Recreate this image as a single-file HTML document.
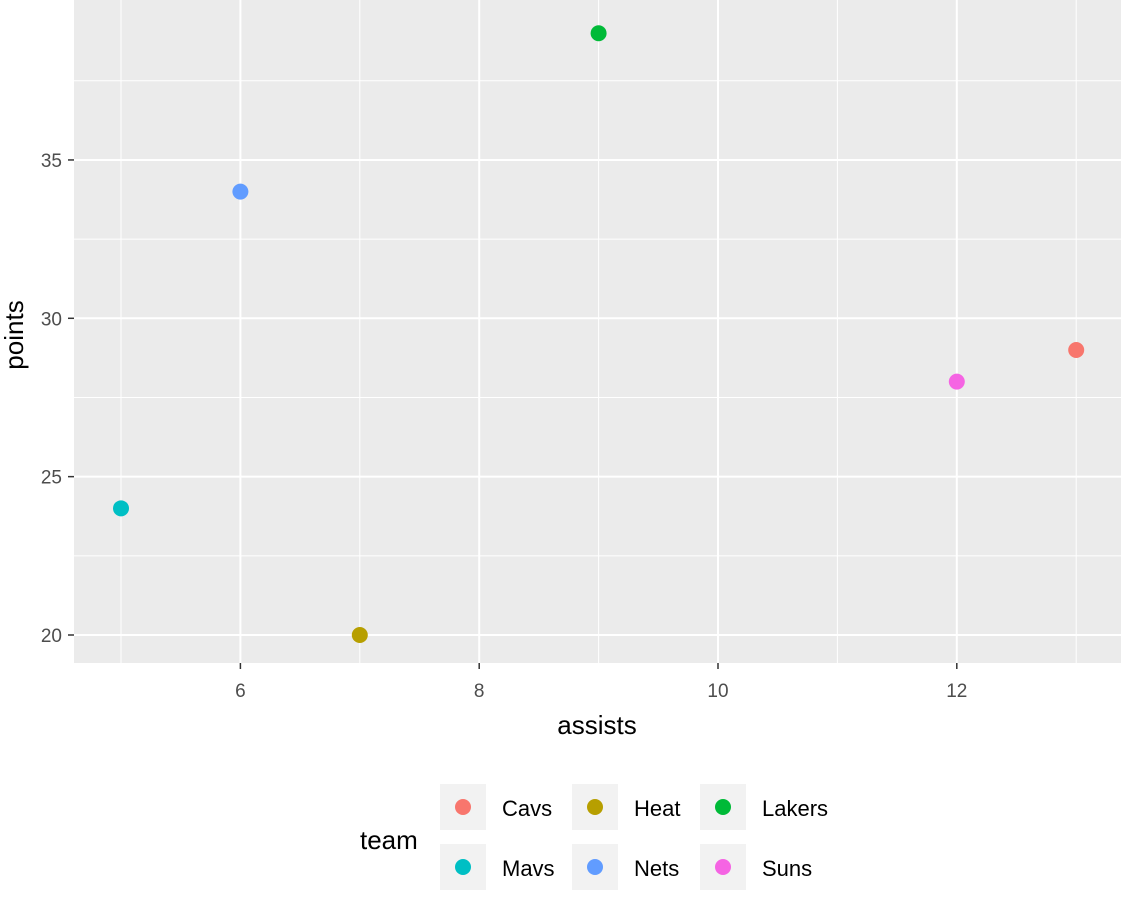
<!DOCTYPE html>
<html><head><meta charset="utf-8"><style>body{margin:0;background:#fff}svg{display:block;font-family:"Liberation Sans",Arial,sans-serif}</style></head>
<body>
<svg id="chart" width="1121" height="899" viewBox="0 0 1121 899">
<rect x="74" y="0" width="1047" height="663" fill="#EBEBEB"/>
<g id="grid"></g><g id="ticks"></g><g id="points"></g>
<text x="597" y="734" font-size="26" text-anchor="middle" fill="#000">assists</text>
<text transform="translate(23,335) rotate(-90)" font-size="26" text-anchor="middle" fill="#000">points</text>
<text x="360" y="849" font-size="26" fill="#000">team</text>
<g id="legend"></g>
</svg>
<script>
const teams=["Cavs","Heat","Lakers","Mavs","Nets","Suns"];
const assists=[13,7,9,5,6,12];
const points=[29,20,39,24,34,28];
const colors=["#F8766D","#B79F00","#00BA38","#00BFC4","#619CFF","#F564E3"];
const xTicks=[6,8,10,12];
const yTicks=[20,25,30,35];
const NS="http://www.w3.org/2000/svg";
const sx=v=>121+(v-5)*119.4;
const sy=v=>635-(v-20)*31.67;
function mk(p,t,a){const e=document.createElementNS(NS,t);for(const k in a)e.setAttribute(k,a[k]);p.appendChild(e);return e;}
const g=document.getElementById('grid'),tk=document.getElementById('ticks');
for(let i=0;i<xTicks.length;i++){const v=xTicks[i];
 const m=mk(g,'line',{x1:sx(v-1),x2:sx(v-1),y1:0,y2:663,stroke:'#fff','stroke-width':1});
 
 const l=mk(g,'line',{x1:sx(v),x2:sx(v),y1:0,y2:663,stroke:'#fff','stroke-width':2});
 
 const t=mk(tk,'text',{x:sx(v),y:697,'font-size':19,'text-anchor':'middle',fill:'#4D4D4D'});t.textContent=v;
 
 mk(tk,'line',{x1:sx(v),x2:sx(v),y1:663,y2:669,stroke:'#333','stroke-width':1.5});}
{const m=mk(g,'line',{x1:sx(13),x2:sx(13),y1:0,y2:663,stroke:'#fff','stroke-width':1});
 }
for(let i=0;i<yTicks.length;i++){const v=yTicks[i];
 const m=mk(g,'line',{x1:74,x2:1121,y1:sy(v+2.5),y2:sy(v+2.5),stroke:'#fff','stroke-width':1});
 
 const l=mk(g,'line',{x1:74,x2:1121,y1:sy(v),y2:sy(v),stroke:'#fff','stroke-width':2});
 
 const t=mk(tk,'text',{x:62,y:sy(v)+7,'font-size':19,'text-anchor':'end',fill:'#4D4D4D'});t.textContent=v;
 
 mk(tk,'line',{x1:68,x2:74,y1:sy(v),y2:sy(v),stroke:'#333','stroke-width':1.5});}
const pg=document.getElementById('points');
for(let i=0;i<teams.length;i++){
 const c=mk(pg,'circle',{cx:sx(assists[i]),cy:sy(points[i]),r:8,fill:colors[i]});
 }
const lg=document.getElementById('legend');
const colX=[440,572,700],rowY=[784,844];
for(let i=0;i<teams.length;i++){const cx=colX[i%3],cy=rowY[Math.floor(i/3)];
 const r=mk(lg,'rect',{x:cx,y:cy,width:46,height:46,fill:'#F2F2F2'});
 
 const c=mk(lg,'circle',{cx:cx+23,cy:cy+23,r:8,fill:colors[i]});
 
 const t=mk(lg,'text',{x:cx+62,y:cy+32,'font-size':22,fill:'#000'});t.textContent=teams[i];
 }
</script>
</body></html>
